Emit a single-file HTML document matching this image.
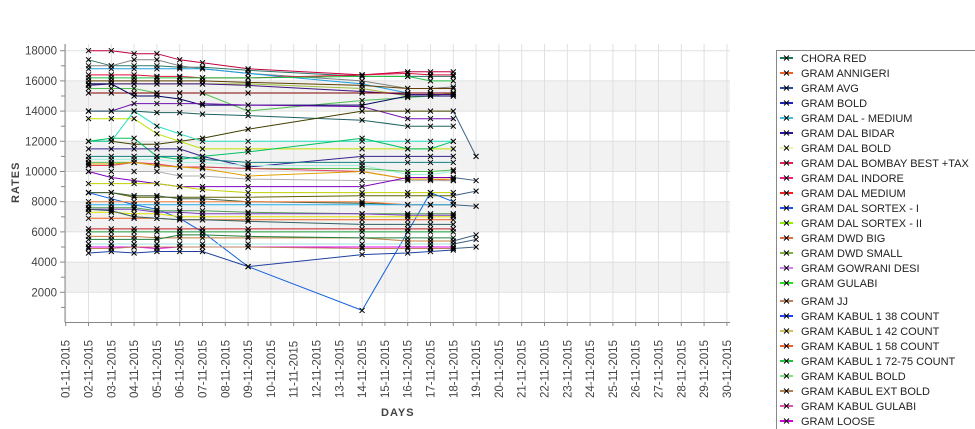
<!DOCTYPE html>
<html><head><meta charset="utf-8"><style>
html,body{margin:0;padding:0;background:#fff;width:975px;height:429px;overflow:hidden}
svg{font-family:"Liberation Sans",sans-serif}
</style></head><body>
<svg id="s" width="975" height="429" xmlns="http://www.w3.org/2000/svg"></svg>
<script>
const s=document.getElementById('s');
let h='';
const X0=65.7,DX=22.8,Y0=322.5,K=30.2/2000;
const X=d=>X0+(d-1)*DX, Y=v=>Y0-v*K;
// plot bg
h+=`<rect x="65" y="44" width="665" height="278" fill="#fff"/>`;
[[14000,16000],[10000,12000],[6000,8000],[2000,4000]].forEach(b=>{h+=`<rect x="65" y="${Y(b[1])}" width="665" height="${30.2}" fill="#f2f2f2"/>`});
for(let d=1;d<=30;d++)h+=`<line x1="${X(d)}" y1="44" x2="${X(d)}" y2="322" stroke="#e0e0e0"/>`;
for(let v=2000;v<=18000;v+=2000)h+=`<line x1="65" y1="${Y(v)}" x2="730" y2="${Y(v)}" stroke="#e0e0e0"/>`;
// series
const days=[2,3,4,5,6,7,9,14,16,17,18];
const ser=[
['#c0003c',[18000,18000,17800,17800,17400,17200,16800,16400,16600,16600,16600]],
['#2a7a6a',[17400,17000,17000,17000,16900,16900,16700,16300,16300,16300,16300]],
['#808080',[17000,17000,17400,17400,17000,16800,16500,16000,15500,15500,15600]],
['#1aa0e0',[16800,16800,16800,16800,16800,16800,16500,15800,15200,15200,15200]],
['#e0103c',[16400,16400,16400,16300,16300,16200,16200,16400,16500,16400,16400]],
['#20c040',[16200,16200,16200,16200,16200,16200,16200,16300,16300,16000,16000]],
['#604000',[16000,16000,16000,16000,16000,16000,15900,15700,15500,15500,15500]],
['#a0c040',[15800,15800,15800,15800,15800,15800,15800,15500,15000,15000,15200]],
['#401080',[15700,15800,15800,15800,15800,15800,15700,15300,15100,15100,15100]],
['#50c050',[15500,15500,15500,15200,15200,15200,14000,14700,14900,15000,15000]],
['#800000',[15200,15200,15200,15200,15200,15200,15200,15200,15200,15200,15200]],
['#000060',[15800,15800,15000,15000,14800,14400,14400,14400,15000,15000,15000]],
['#7010b0',[14000,14000,14500,14500,14500,14500,14400,14300,13500,13500,13500]],
['#206060',[14000,14000,14000,13900,13900,13800,13700,13400,13000,13000,13000]],
['#404000',[12000,12000,11800,11800,12000,12200,12800,14000,14000,14000,14000]],
['#c0e000',[13500,13500,13500,12500,12000,11500,11500,11500,11500,11500,11500]],
['#20e0c0',[12000,12000,14000,13000,12500,12000,12000,12000,12000,12000,12000]],
['#00c060',[12000,12200,12200,11000,10800,11000,11300,12200,11500,11500,12000]],
['#3a2090',[11500,11500,11500,11500,11500,11000,10300,11000,11000,11000,11000]],
['#108080',[11000,11000,11000,11000,11000,10800,10600,10600,10600,10600,10600]],
['#a0f0e0',[10800,10800,10800,10800,10600,10600,10400,10400,9800,9800,10000]],
['#50c050',[10600,10600,10600,10400,10300,10300,10200,10200,10000,10000,10100]],
['#e04060',[10400,10400,10600,10500,10300,10300,10200,10000,9500,9500,9400]],
['#e0a000',[10500,10500,10600,10400,10300,10200,9700,10000,9500,9500,9500]],
['#b0b0b0',[10000,10000,10000,10000,9700,9700,9500,9400,9400,9400,9400]],
['#8000c0',[10000,9600,9400,9200,9000,9000,9000,9000,9600,9600,9600]],
['#c0d000',[9200,9200,9200,9200,9000,8800,8600,8600,8600,8600,8600]],
['#606000',[8600,8600,8300,8300,8300,8300,8300,8400,8400,8400,8400]],
['#406040',[8600,8600,8400,8400,8200,8200,8000,7900,7800,7800,7800]],
['#1060e0',[8600,8200,7800,7500,6900,6000,3700,800,6000,8600,8000]],
['#f08040',[8000,8000,8000,8000,8000,8000,8000,8000,7800,7800,7800]],
['#20b0f0',[7800,7800,7800,7800,7800,7800,7800,7800,7800,7800,7800]],
['#50a050',[7600,7600,7600,7400,7400,7400,7300,7200,7200,7200,7200]],
['#8040c0',[7500,7500,7500,7300,7300,7200,7200,7200,7100,7100,7100]],
['#e0e000',[7300,7300,7200,7200,7000,7000,7000,7000,7000,7000,7000]],
['#f06020',[6900,6900,6900,6900,6800,6800,6800,6800,6800,6800,6800]],
['#306060',[7500,7400,7000,6900,6800,6800,6700,6500,6500,6500,6500]],
['#c02020',[6200,6200,6200,6200,6200,6200,6200,6200,6200,6200,6200]],
['#20a040',[6000,6000,6000,6000,6000,6000,6000,6000,6000,6000,6000]],
['#c08040',[5700,5700,5700,5600,5600,5600,5600,5600,5400,5400,5400]],
['#208040',[5500,5500,5500,5500,5800,5800,5700,5600,5600,5600,5600]],
['#a0e0e0',[5200,5200,5200,5200,5200,5200,5200,5200,5200,5200,5200]],
['#e000e0',[5000,5000,5000,4900,5000,5000,5000,5000,5000,5000,5000]],
['#c08060',[4900,4900,5000,5000,5000,5000,5000,4900,4900,4900,4900]],
['#2040a0',[4600,4700,4600,4700,4700,4700,3700,4500,4600,4700,4800]],
];
let mk='';
ser.forEach(([c,v])=>{
 let p=days.map((d,i)=>X(d).toFixed(1)+','+Y(v[i]).toFixed(1)).join(' ');
 h+=`<polyline points="${p}" fill="none" stroke="${c}" stroke-width="1"/>`;
 days.forEach((d,i)=>{mk+=xm(X(d),Y(v[i]))});
});
// extra d19 points
[[11000,14000],[9400,9600],[8700,8400],[7700,7800],[5800,5400],[5500,5200],[5000,4900]].forEach(([a,b])=>{
 h+=`<line x1="${X(18)}" y1="${Y(b)}" x2="${X(19)}" y2="${Y(a)}" stroke="#406080"/>`;mk+=xm(X(19),Y(a));});
function xm(x,y){return `<path d="M${x-2.5},${y-2.5}L${x+2.5},${y+2.5}M${x-2.5},${y+2.5}L${x+2.5},${y-2.5}" stroke="#000" stroke-width="1"/>`}
h+=mk;
// axes
h+=`<line x1="65" y1="44" x2="65" y2="322.5" stroke="#888"/><line x1="65" y1="322.5" x2="730" y2="322.5" stroke="#888"/>`;
for(let v=1000;v<=18000;v+=1000){let y=Y(v);h+=`<line x1="${v%2000?61:60}" y1="${y}" x2="65" y2="${y}" stroke="#888"/>`;
 if(v%2000==0)h+=`<text x="57" y="${y+4}" font-size="11.5" fill="#444" text-anchor="end">${v}</text>`;}
for(let d=1;d<=30;d++){let x=X(d);h+=`<line x1="${x}" y1="322.5" x2="${x}" y2="326" stroke="#888"/>`;
 h+=`<text transform="translate(${x+4},398) rotate(-90)" font-size="11.5" fill="#444">${String(d).padStart(2,'0')}-11-2015</text>`;}
h+=`<text transform="translate(19,203) rotate(-90)" font-size="11" font-weight="bold" fill="#444" letter-spacing="1">RATES</text>`;
h+=`<text x="381" y="416" font-size="11" font-weight="bold" fill="#444" letter-spacing="1">DAYS</text>`;
// legend
h+=`<rect x="776.5" y="50.5" width="205" height="390" fill="#fff" stroke="#888"/>`;
const L=[['CHORA RED','#1a7a5a'],['GRAM ANNIGERI','#f06020'],['GRAM AVG','#2a4aa0'],['GRAM BOLD','#2020c0'],['GRAM DAL - MEDIUM','#40c0e0'],['GRAM DAL BIDAR','#3010a0'],['GRAM DAL BOLD','#f0f0b0'],['GRAM DAL BOMBAY BEST +TAX','#e02050'],['GRAM DAL INDORE','#f02080'],['GRAM DAL MEDIUM','#f02020'],['GRAM DAL SORTEX  - I','#2050f0'],['GRAM DAL SORTEX - II','#90f000'],['GRAM DWD BIG','#e07040'],['GRAM DWD SMALL','#80b040'],['GRAM GOWRANI DESI','#d080f0'],['GRAM GULABI','#20e020'],['GRAM JJ','#c08060'],['GRAM KABUL 1 38 COUNT','#2040f0'],['GRAM KABUL 1 42 COUNT','#d0c060'],['GRAM KABUL 1 58 COUNT','#f06020'],['GRAM KABUL 1 72-75 COUNT','#20c040'],['GRAM KABUL BOLD','#80e080'],['GRAM KABUL EXT BOLD','#b08050'],['GRAM KABUL GULABI','#e050b0'],['GRAM LOOSE','#d000e0']];
L.forEach(([t,c],i)=>{let y=58+i*15+(i>=16?3:0);
 h+=`<line x1="780" y1="${y}" x2="793" y2="${y}" stroke="${c}" stroke-width="2"/>`+xm(786.5,y);
 h+=`<text x="801" y="${y+4}" font-size="11" fill="#222">${t}</text>`;});
s.innerHTML=h;
</script>
</body></html>
